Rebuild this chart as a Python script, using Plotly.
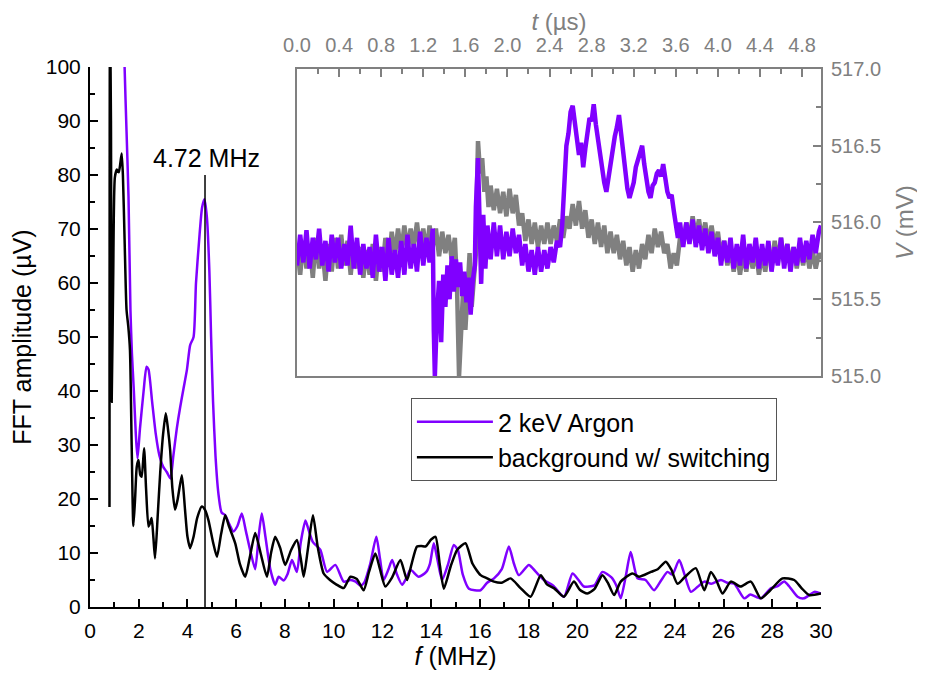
import plotly.graph_objects as go

# ---------------- main FFT data ----------------
argon_f = [1.30, 1.42, 1.50, 1.58, 1.66, 1.72, 1.80, 1.88, 1.95, 2.05, 2.20, 2.32, 2.40, 2.55, 2.70, 2.85,
           3.00, 3.15, 3.30, 3.42, 3.56, 3.70, 3.84, 3.98, 4.11, 4.25, 4.35, 4.48, 4.60, 4.70, 4.80, 4.90,
           4.97, 5.05, 5.15, 5.27, 5.40, 5.55, 5.70, 5.89, 6.05, 6.23, 6.40, 6.60, 6.78, 6.92, 7.05, 7.20,
           7.40, 7.60, 7.74, 7.95, 8.10, 8.29, 8.49, 8.65, 8.84, 8.97, 9.15, 9.45, 9.73, 10.07, 10.41, 10.70,
           10.90, 11.10, 11.25, 11.50, 11.75, 11.90, 12.05, 12.25, 12.40, 12.60, 12.81, 13.00, 13.15, 13.49,
           13.80, 13.95, 14.11, 14.25, 14.45, 14.70, 14.93, 15.10, 15.30, 15.55, 16.03, 16.30, 16.58, 16.90,
           17.19, 17.40, 17.60, 18.01, 18.30, 18.63, 19.00, 19.45, 19.80, 20.05, 20.27, 20.70, 21.03, 21.40,
           21.60, 21.78, 22.00, 22.19, 22.47, 22.80, 23.15, 23.45, 23.70, 23.90, 24.18, 24.40, 24.66, 25.00,
           25.21, 25.50, 25.89, 26.15, 26.44, 26.85, 27.10, 27.53, 27.95, 28.20, 28.49, 28.70, 29.04, 29.30,
           29.73, 30.00]
argon_a = [130, 100, 88, 76, 55, 47, 40, 32, 27.5, 33, 40, 44.5, 44, 38, 32, 28,
           26, 25, 23.8, 28, 33, 37, 40.5, 44, 48.5, 50, 60, 68, 74, 75.5, 72, 62,
           50, 38, 28, 21, 17.5, 17, 15.5, 14, 15, 17.3, 14, 10, 7, 13, 17.3, 13,
           7, 4.1, 5.6, 4.9, 6, 8.7, 6.5, 12, 16, 14.3, 12, 10.6, 6.5, 7.8, 4.7, 5,
           4.7, 4, 4.5, 8, 13, 9, 5, 7, 8.7, 6, 4.1, 5.5, 6.9, 5.6,
           6.5, 8, 11.8, 9, 5, 8, 11.5, 10.5, 6, 3.4, 3.1, 4.5, 5.3, 7,
           11.2, 8, 5.9, 7.8, 6.5, 5, 4, 1.9, 6.2, 5, 3.8, 4, 6.5, 5.5,
           4, 1.6, 6, 10.2, 5.3, 5, 3.1, 5, 6.5, 6, 8.7, 6, 2.8, 4,
           4.7, 4.3, 5, 4.5, 4.3, 1.6, 2.3, 1.6, 3.5, 3.8, 4.7, 3.8, 1.9, 1.6,
           2.8, 2.5]

bg_f = [0.80, 0.82, 0.86, 0.89, 0.95, 1.02, 1.10, 1.18, 1.24, 1.30, 1.35, 1.42, 1.50, 1.57, 1.64, 1.71,
        1.78, 1.85, 1.92, 1.99, 2.06, 2.12, 2.22, 2.30, 2.40, 2.46, 2.53, 2.60, 2.67, 2.78, 2.88, 3.00,
        3.11, 3.20, 3.29, 3.38, 3.49, 3.60, 3.77, 3.90, 4.00, 4.11, 4.25, 4.40, 4.59, 4.72, 4.86, 5.05,
        5.21, 5.38, 5.55, 5.70, 5.96, 6.15, 6.37, 6.55, 6.78, 7.00, 7.26, 7.43, 7.60, 7.80, 8.01, 8.25,
        8.49, 8.65, 8.77, 8.95, 9.15, 9.35, 9.59, 9.85, 10.10, 10.41, 10.69, 10.95, 11.23, 11.45, 11.71, 11.90,
        12.12, 12.40, 12.74, 13.01, 13.20, 13.42, 13.60, 13.77, 14.00, 14.18, 14.35, 14.52, 14.80, 15.07, 15.41, 15.70,
        16.03, 16.30, 16.58, 16.90, 17.26, 17.67, 18.08, 18.50, 18.75, 19.04, 19.45, 19.86, 20.10, 20.41, 20.70, 21.03,
        21.25, 21.51, 21.78, 22.26, 22.53, 23.02, 23.30, 23.63, 23.85, 24.11, 24.40, 24.86, 25.21, 25.48, 25.70, 25.96,
        26.30, 26.70, 27.12, 27.53, 27.90, 28.42, 28.90, 29.20, 29.52, 30.00]
bg_a = [18.5, 110, 90, 38, 60, 79.5, 81, 80.5, 82, 84, 80, 68, 55, 52, 47.6, 30,
        15, 20, 26, 27.2, 24.5, 24.1, 29.4, 22, 14.9, 15.5, 16.5, 13, 9.0, 17, 24.8, 32,
        35.9, 33, 29, 22, 18, 20, 24.4, 18, 13, 10.9, 13, 16.5, 18.6, 18, 16.1, 12,
        9.3, 13.5, 17, 15, 11.8, 8, 5.6, 9, 13.7, 10, 5.6, 10, 13, 11, 7.8, 10.5,
        12.4, 9, 5.6, 11, 17, 11, 6.2, 5, 4.2, 3.5, 5.6, 5.2, 3.1, 6.5, 9.9, 7,
        3.8, 5.5, 8.7, 5, 8, 11.2, 11.3, 11.2, 12.5, 13, 8, 3.4, 7.5, 10.6, 11.8, 8,
        5.9, 5.3, 4.7, 4.5, 5.3, 3.5, 1.9, 5.9, 4.2, 3.5, 1.9, 4.7, 3.2, 2.5, 3.3, 5.9,
        4.5, 2.2, 4.7, 6.2, 5.6, 6.5, 7, 8.4, 7, 4.3, 5.5, 7.2, 3.1, 6.5, 5, 2.5,
        4.7, 3.8, 4.7, 1.6, 3, 5.3, 5, 3.5, 2.2, 2.5]

peak_freq = 4.72
peak_marker_top = 80
peak_label = "4.72 MHz"

# ---------------- inset time-domain data ----------------
argon_t = [0.00, 0.03, 0.06, 0.09, 0.12, 0.15, 0.18, 0.21, 0.24, 0.27, 0.30, 0.33, 0.36, 0.39, 0.42, 0.45,
           0.48, 0.51, 0.54, 0.57, 0.60, 0.63, 0.66, 0.69, 0.72, 0.75, 0.78, 0.81, 0.84, 0.87, 0.90, 0.93,
           0.96, 0.99, 1.02, 1.05, 1.08, 1.11, 1.14, 1.17, 1.20, 1.23, 1.26, 1.29,
           1.30, 1.31, 1.33, 1.35, 1.37, 1.39, 1.41, 1.43, 1.45, 1.47, 1.49, 1.51, 1.53, 1.55, 1.57, 1.59,
           1.61, 1.63, 1.65, 1.67, 1.69, 1.70, 1.72, 1.73, 1.75, 1.77, 1.79, 1.81, 1.84, 1.87, 1.90, 1.93,
           1.96, 1.99, 2.02, 2.05, 2.08, 2.11, 2.14, 2.17, 2.20, 2.23, 2.26, 2.29, 2.32, 2.35, 2.38, 2.41,
           2.44, 2.47, 2.50, 2.52,
           2.54, 2.56, 2.58, 2.60, 2.62, 2.64, 2.66, 2.68, 2.70, 2.72, 2.74, 2.76, 2.78, 2.80, 2.82, 2.84,
           2.86, 2.88, 2.90, 2.92, 2.94, 2.96, 2.98, 3.00, 3.02, 3.04, 3.06, 3.08, 3.10, 3.12, 3.14, 3.16,
           3.18, 3.20, 3.22, 3.24, 3.26, 3.28, 3.30, 3.32, 3.34, 3.36, 3.38, 3.40, 3.42, 3.44, 3.46, 3.48,
           3.50, 3.52, 3.54, 3.56, 3.58, 3.60, 3.62, 3.64,
           3.67, 3.70, 3.73, 3.76, 3.79, 3.82, 3.85, 3.88, 3.91, 3.94, 3.97, 4.00, 4.03, 4.06, 4.09, 4.12,
           4.15, 4.18, 4.21, 4.24, 4.27, 4.30, 4.33, 4.36, 4.39, 4.42, 4.45, 4.48, 4.51, 4.54, 4.57, 4.60,
           4.63, 4.66, 4.69, 4.72, 4.75, 4.78, 4.81, 4.84, 4.87, 4.90, 4.93, 4.96, 4.98]
argon_v = [515.72, 515.92, 515.74, 515.95, 515.70, 515.90, 515.76, 515.96, 515.72, 515.88, 515.68, 515.92, 515.74, 515.90, 515.70, 515.86,
           515.72, 515.98, 515.70, 515.90, 515.66, 515.86, 515.70, 515.84, 515.64, 515.92, 515.68, 515.84, 515.62, 515.90, 515.66, 515.82,
           515.64, 515.88, 515.66, 515.92, 515.70, 515.86, 515.68, 515.94, 515.72, 515.90, 515.74, 515.96,
           515.30, 515.00, 515.40, 515.62, 515.22, 515.66, 515.45, 515.72, 515.50, 515.78, 515.55, 515.76, 515.58, 515.74, 515.52, 515.68,
           515.48, 515.64, 515.40, 515.62, 515.72, 516.10, 516.42, 516.10, 515.60, 516.05, 515.70, 515.98, 515.76, 516.00, 515.78, 515.98,
           515.76, 515.94, 515.78, 515.96, 515.80, 515.92, 515.72, 515.86, 515.68, 515.82, 515.66, 515.84, 515.68, 515.82, 515.70, 515.84,
           515.74, 515.88, 515.84, 515.98,
           516.25, 516.50, 516.58, 516.72, 516.76, 516.64, 516.56, 516.44, 516.52, 516.36, 516.48, 516.58, 516.68, 516.66, 516.77, 516.64,
           516.55, 516.42, 516.34, 516.26, 516.20, 516.30, 516.40, 516.48, 516.56, 516.62, 516.70, 516.58, 516.44, 516.32, 516.22, 516.16,
           516.22, 516.26, 516.36, 516.40, 516.46, 516.50, 516.38, 516.28, 516.20, 516.16, 516.24, 516.26, 516.32, 516.34, 516.30, 516.38,
           516.26, 516.20, 516.16, 516.18, 516.08, 516.00, 515.90, 516.00,
           515.84, 516.00, 515.86, 516.02, 515.84, 515.98, 515.82, 515.96, 515.80, 515.94, 515.78, 515.90, 515.72, 515.88, 515.74, 515.90,
           515.70, 515.86, 515.72, 515.92, 515.70, 515.86, 515.74, 515.90, 515.70, 515.86, 515.72, 515.88, 515.68, 515.84, 515.72, 515.90,
           515.70, 515.86, 515.68, 515.84, 515.72, 515.90, 515.74, 515.88, 515.76, 515.92, 515.80, 515.94, 515.98]

bg_t = [0.00, 0.03, 0.06, 0.09, 0.12, 0.15, 0.18, 0.21, 0.24, 0.27, 0.30, 0.33, 0.36, 0.39, 0.42, 0.45,
        0.48, 0.51, 0.54, 0.57, 0.60, 0.63, 0.66, 0.69, 0.72, 0.75, 0.78, 0.81, 0.84, 0.87, 0.90, 0.93,
        0.96, 0.99, 1.02, 1.05, 1.08, 1.11, 1.14, 1.17, 1.20, 1.23, 1.26, 1.29, 1.32, 1.35, 1.38, 1.41,
        1.44, 1.47, 1.50, 1.52, 1.54, 1.56, 1.58, 1.60, 1.62, 1.64, 1.66, 1.68, 1.70, 1.71, 1.72, 1.74,
        1.76, 1.78, 1.80, 1.82, 1.84, 1.87, 1.90, 1.93, 1.96, 1.99, 2.02, 2.05, 2.08, 2.11, 2.14, 2.17,
        2.20, 2.23, 2.26, 2.29, 2.32, 2.35, 2.38, 2.41, 2.44, 2.47, 2.50, 2.53, 2.56, 2.59, 2.62, 2.65,
        2.68, 2.71, 2.74, 2.77, 2.80, 2.83, 2.86, 2.89, 2.92, 2.95, 2.98, 3.01, 3.04, 3.07, 3.10, 3.13,
        3.16, 3.19, 3.22, 3.25, 3.28, 3.31, 3.34, 3.37, 3.40, 3.43, 3.46, 3.49, 3.52, 3.55, 3.58, 3.61,
        3.64, 3.67, 3.70, 3.73, 3.76, 3.79, 3.82, 3.85, 3.88, 3.91, 3.94, 3.97, 4.00, 4.03, 4.06, 4.09,
        4.12, 4.15, 4.18, 4.21, 4.24, 4.27, 4.30, 4.33, 4.36, 4.39, 4.42, 4.45, 4.48, 4.51, 4.54, 4.57,
        4.60, 4.63, 4.66, 4.69, 4.72, 4.75, 4.78, 4.81, 4.84, 4.87, 4.90, 4.93, 4.96, 4.98]
bg_v = [515.84, 515.66, 515.88, 515.70, 515.86, 515.64, 515.90, 515.70, 515.84, 515.62, 515.86, 515.68, 515.90, 515.70, 515.92, 515.72,
        515.88, 515.66, 515.86, 515.70, 515.84, 515.64, 515.82, 515.66, 515.86, 515.62, 515.84, 515.68, 515.90, 515.72, 515.94, 515.78,
        515.96, 515.80, 515.98, 515.82, 515.96, 515.84, 516.00, 515.82, 515.96, 515.80, 515.98, 515.84, 515.96, 515.78, 515.94, 515.80,
        515.92, 515.76, 515.90, 515.60, 515.00, 515.38, 515.58, 515.30, 515.55, 515.80, 515.45, 515.65, 515.80, 516.20, 516.53, 516.32,
        516.42, 516.20, 516.30, 516.10, 516.24, 516.08, 516.22, 516.06, 516.20, 516.04, 516.22, 516.06, 516.18, 515.98, 516.06, 515.88,
        516.02, 515.86, 516.00, 515.84, 515.98, 515.86, 516.00, 515.86, 515.98, 515.88, 516.02, 515.90, 516.04, 515.96, 516.12, 515.98,
        516.14, 515.96, 516.08, 515.90, 516.02, 515.86, 516.00, 515.84, 515.98, 515.80, 515.94, 515.80, 515.92, 515.76, 515.88, 515.72,
        515.84, 515.68, 515.82, 515.70, 515.86, 515.76, 515.92, 515.80, 515.96, 515.84, 515.94, 515.80, 515.86, 515.70, 515.80, 515.72,
        515.90, 515.86, 516.00, 515.88, 516.04, 515.90, 516.02, 515.88, 516.00, 515.86, 515.98, 515.84, 515.94, 515.78, 515.88, 515.72,
        515.84, 515.68, 515.82, 515.66, 515.80, 515.68, 515.84, 515.70, 515.82, 515.66, 515.80, 515.68, 515.84, 515.72, 515.88, 515.74,
        515.90, 515.74, 515.86, 515.72, 515.84, 515.70, 515.86, 515.72, 515.84, 515.70, 515.82, 515.70, 515.80, 515.76]

PURPLE = "#8000FF"
GREY = "#808080"
FONT = "Liberation Sans, Arial, sans-serif"

fig = go.Figure()

fig.add_trace(go.Scatter(x=bg_t, y=bg_v, mode="lines", xaxis="x2", yaxis="y2",
                         line=dict(color=GREY, width=4.5), showlegend=False, hoverinfo="skip"))
fig.add_trace(go.Scatter(x=argon_t, y=argon_v, mode="lines", xaxis="x2", yaxis="y2",
                         line=dict(color=PURPLE, width=4.5), showlegend=False, hoverinfo="skip"))

fig.add_trace(go.Scatter(x=argon_f, y=argon_a, mode="lines", name="2 keV Argon",
                         line=dict(color=PURPLE, width=2.5, shape="spline", smoothing=0.6)))
fig.add_trace(go.Scatter(x=bg_f, y=bg_a, mode="lines", name="background w/ switching",
                         line=dict(color="black", width=2.5, shape="spline", smoothing=0.6)))

fig.add_shape(type="line", xref="x", yref="y", x0=peak_freq, x1=peak_freq, y0=0, y1=peak_marker_top,
              line=dict(color="black", width=1.5))
fig.add_annotation(x=peak_freq + 0.05, y=peak_marker_top + 3.2, xref="x", yref="y", text=peak_label,
                   showarrow=False, font=dict(size=25, color="black", family=FONT))

fig.update_layout(
    width=917, height=667,
    margin=dict(l=82, r=104, t=59, b=68),
    paper_bgcolor="white", plot_bgcolor="white",
    font=dict(family=FONT, color="black"),
    xaxis=dict(domain=[0, 1], range=[0, 30], showline=True, linecolor="black", linewidth=2,
               ticks="inside", ticklen=8, tickwidth=2, tickcolor="black", dtick=2, tick0=0,
               minor=dict(dtick=1, ticks="inside", ticklen=5, tickwidth=2, tickcolor="black"),
               showgrid=False, zeroline=False, tickfont=dict(size=21), ticklabelstandoff=4,
               automargin=False,
               title=dict(text="<i>f</i> (MHz)", font=dict(size=25), standoff=2)),
    yaxis=dict(domain=[0, 1], range=[0, 100], showline=True, linecolor="black", linewidth=2,
               ticks="inside", ticklen=8, tickwidth=2, tickcolor="black", dtick=10, tick0=0,
               minor=dict(dtick=5, ticks="inside", ticklen=5, tickwidth=2, tickcolor="black"),
               showgrid=False, zeroline=False, tickfont=dict(size=21), automargin=False,
               ticklabelstandoff=3,
               title=dict(text="FFT amplitude (µV)", font=dict(size=25), standoff=8)),
    xaxis2=dict(domain=[0.2832, 1.0], range=[0, 4.98], anchor="y2", side="top",
                showline=True, linecolor=GREY, linewidth=2, mirror=True,
                ticks="inside", ticklen=8, tickwidth=2, tickcolor=GREY, dtick=0.4, tick0=0,
                tickformat=".1f", ticklabelstandoff=7, automargin=False,
                minor=dict(dtick=0.2, ticks="inside", ticklen=5, tickwidth=2, tickcolor=GREY),
                showgrid=False, zeroline=False, tickfont=dict(size=20, color=GREY),
                title=dict(text="<i>t</i> (µs)", font=dict(size=24, color=GREY), standoff=10)),
    yaxis2=dict(domain=[0.4278, 0.9963], range=[515, 517], anchor="x2", side="right",
                showline=True, linecolor=GREY, linewidth=2, mirror=True,
                ticks="inside", ticklen=8, tickwidth=2, tickcolor=GREY, dtick=0.5, tick0=515,
                tickformat=".1f", ticklabelstandoff=4, automargin=False,
                minor=dict(dtick=0.25, ticks="inside", ticklen=5, tickwidth=2, tickcolor=GREY),
                showgrid=False, zeroline=False, tickfont=dict(size=20, color=GREY),
                title=dict(text="<i>V</i> (mV)", font=dict(size=24, color=GREY), standoff=16)),
    legend=dict(x=0.439, y=0.387, xanchor="left", yanchor="top", bgcolor="white",
                bordercolor="#555555", borderwidth=1, font=dict(size=25, color="black"),
                itemwidth=76, tracegroupgap=0),
)

fig.write_html("out.html")
